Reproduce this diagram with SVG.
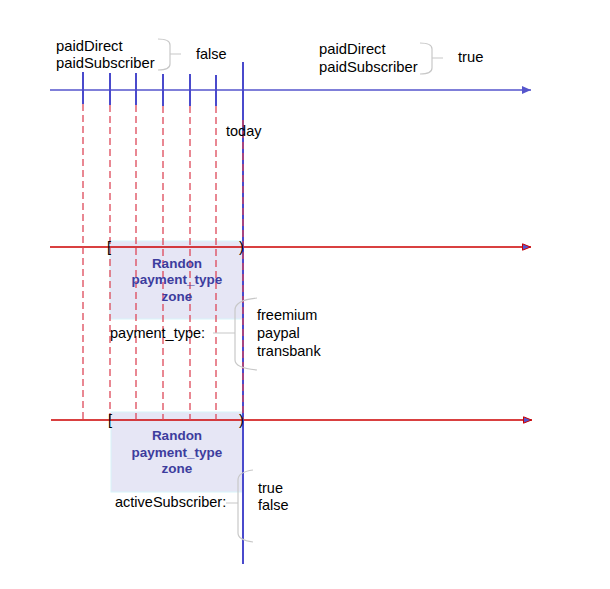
<svg xmlns="http://www.w3.org/2000/svg" width="610" height="589" viewBox="0 0 610 589">
<style>
text{font-family:"Liberation Sans",Arial,sans-serif;fill:#000}
.lbl{font-size:14.5px}
.big{font-size:14.8px}
.zone{font-size:13.5px;font-weight:bold;fill:#3d3d9e;text-anchor:middle}
.tick{stroke:#4a4acc;stroke-width:2}
.dash{stroke:#dd4455;stroke-width:1.5;stroke-dasharray:7 4;stroke-opacity:0.85}
.brace{fill:none;stroke:#c8c8c8;stroke-width:1.2}
.zonebox{fill:#e6e6f5;stroke:#d8f4fa;stroke-width:1}
</style>
<defs>
<marker id="ab" markerWidth="10" markerHeight="8" refX="9" refY="4" orient="auto" markerUnits="userSpaceOnUse">
<path d="M0,0 L9,4 L0,8 Z" fill="#5555cc"/>
</marker>
<marker id="ar" markerWidth="10" markerHeight="8" refX="9" refY="4" orient="auto" markerUnits="userSpaceOnUse">
<path d="M0.5,0.8 L8.5,4 L0.5,7.2 Z" fill="#5555cc" stroke="#cc0000" stroke-width="1"/>
</marker>
</defs>
<rect width="610" height="589" fill="#fff"/>

<g id="zone1">
<rect class="zonebox" x="110" y="241" width="133" height="78"/>
</g>
<g id="zone2">
<rect class="zonebox" x="111" y="412" width="132" height="80"/>
</g>

<g id="connectors">
<line x1="50" y1="90" x2="531" y2="90" stroke="#5555cc" stroke-width="1.5" marker-end="url(#ab)"/>
<line x1="50" y1="247" x2="531" y2="247" stroke="#cc0000" stroke-width="1.3" marker-end="url(#ar)"/>
<line x1="51" y1="420" x2="532" y2="420" stroke="#cc0000" stroke-width="1.3" marker-end="url(#ar)"/>
<line class="tick" x1="83" y1="72" x2="83" y2="104"/>
<line class="tick" x1="110" y1="73" x2="110" y2="105"/>
<line class="tick" x1="136" y1="73" x2="136" y2="105"/>
<line class="tick" x1="163" y1="74" x2="163" y2="106"/>
<line class="tick" x1="190" y1="74" x2="190" y2="106"/>
<line class="tick" x1="216" y1="75" x2="216" y2="106"/>
<line x1="243" y1="62" x2="243" y2="564" stroke="#4a4acc" stroke-width="2"/>
<line class="dash" x1="83" y1="104" x2="83" y2="420"/>
<line class="dash" x1="110" y1="105" x2="110" y2="420"/>
<line class="dash" x1="136" y1="105" x2="136" y2="420"/>
<line class="dash" x1="163" y1="106" x2="163" y2="420"/>
<line class="dash" x1="190" y1="106" x2="190" y2="420"/>
<line class="dash" x1="216" y1="106" x2="216" y2="420"/>
<line class="dash" x1="243" y1="120" x2="243" y2="420" stroke-width="1"/>
</g>

<g id="zone-labels">
<text class="zone" x="177" y="268">Randon</text>
<text class="zone" x="177" y="284">payment_type</text>
<text class="zone" x="177" y="301">zone</text>
<text class="zone" x="177" y="440">Randon</text>
<text class="zone" x="177" y="457">payment_type</text>
<text class="zone" x="177" y="473">zone</text>
</g>

<g id="top-labels">
<text class="big" x="56" y="51">paidDirect</text>
<text class="big" x="56" y="68">paidSubscriber</text>
<path class="brace" d="M158,39 Q170,39 170,45 L170,64 Q170,70 158,70 M170,54 L181,54"/>
<text class="lbl" x="196" y="59">false</text>
<text class="big" x="319" y="54">paidDirect</text>
<text class="big" x="319" y="72">paidSubscriber</text>
<path class="brace" d="M420,43 Q432,43 432,49 L432,68 Q432,74 420,74 M432,58 L443,58"/>
<text class="big" x="458" y="62">true</text>
<text class="lbl" x="226" y="136">today</text>
</g>

<g id="brackets">
<text class="lbl" x="107" y="252">[</text>
<text class="lbl" x="239" y="252">)</text>
<text class="lbl" x="108" y="425">[</text>
<text class="lbl" x="239" y="425">)</text>
</g>

<g id="payment-type">
<text class="lbl" x="110" y="338">payment_type:</text>
<path class="brace" d="M257,298 Q235,300 235,310 L235,360 Q235,368 257,370 M213,333 L235,333"/>
<text class="lbl" x="257" y="320">freemium</text>
<text class="lbl" x="257" y="338">paypal</text>
<text class="lbl" x="257" y="356">transbank</text>
</g>

<g id="active-subscriber">
<text class="lbl" x="115" y="507">activeSubscriber:</text>
<path class="brace" d="M253,470 Q238,472 238,480 L238,533 Q238,540 253,542 M226,503 L238,503"/>
<text class="lbl" x="258" y="493">true</text>
<text class="lbl" x="258" y="510">false</text>
</g>
</svg>
